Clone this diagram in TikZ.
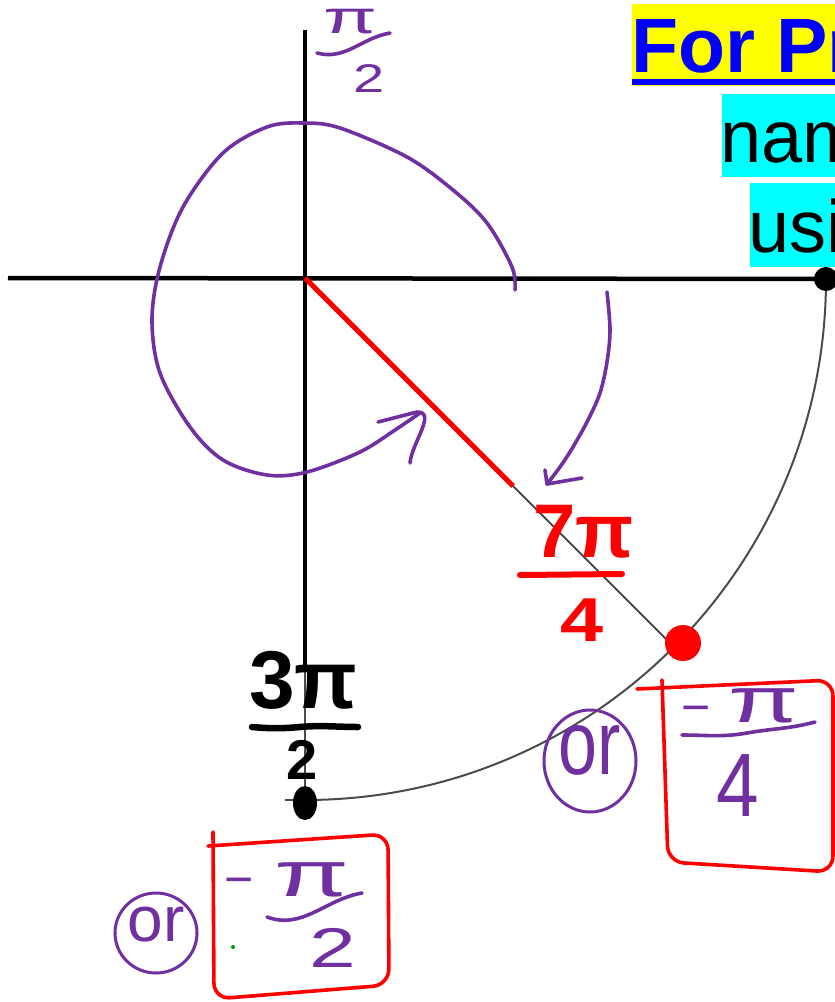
\documentclass[tikz,border=0pt]{standalone}
\usepackage{fontspec}
\setmainfont{Liberation Sans}
\definecolor{pen}{RGB}{112,48,160}
\definecolor{arcgrey}{RGB}{75,75,75}
\definecolor{hlcyan}{RGB}{0,255,255}
\definecolor{hlyellow}{RGB}{255,255,0}
\definecolor{titleblue}{RGB}{0,0,255}
\newcommand{\fs}[1]{\fontsize{#1}{#1}\selectfont}
\tikzset{
  axisline/.style={line width=4.5pt, black},
  thinline/.style={line width=2pt, arcgrey},
  penline/.style={pen, line width=3.6pt, line cap=round, line join=round},
  redbox/.style={red, line width=3.6pt, line cap=round, line join=round, rounded corners=16pt},
  redpen/.style={red, line width=6pt, line cap=round},
  blackpen/.style={black, line width=6.5pt, line cap=round},
  txt/.style={inner sep=0pt, outer sep=0pt},
}
\begin{document}
\begin{tikzpicture}[x=1pt,y=-1pt]
\useasboundingbox (0,0) rectangle (835,1002);
\clip (0,0) rectangle (835,1002);
\fill[white] (0,0) rectangle (835,1002);

% ---------- title highlights ----------
\fill[hlyellow] (632,4) rectangle (835,86);
\fill[titleblue] (632,79) rectangle (835,85);
\fill[hlcyan] (722,94) rectangle (835,177);
\fill[hlcyan] (750,183) rectangle (835,267);
\node[txt, anchor=base west, text=titleblue, font=\bfseries\fs{77}] (title) at (631,72) {For Pr};
\node[txt, anchor=base west, font=\fs{74}] (line2) at (720,162) {nam};
\node[txt, anchor=base west, font=\fs{74}] (line3) at (748,252) {usi};

% ---------- axes and circle ----------
\coordinate (O) at (305,278);
\coordinate (E) at (826,279);
\coordinate (S) at (305,800);
\coordinate (P) at (673,646);
\draw[thinline] (O) -- (S);
\draw[thinline] (285,800) -- (S);
\draw[thinline] (S) arc[start angle=90, end angle=0, radius=521];
\draw[thinline] (O) -- (P);
\draw[axisline] (8,278) -- (E);
\draw[axisline] (305,30) -- (305,668);
\draw[red, line width=5pt] (O) -- (513,486);
\fill[black] (E) circle[radius=12];
\fill[black] (305,803) ellipse[x radius=12, y radius=17];
\fill[red] (683,643) circle[radius=18];

% ---------- purple rotation arrows ----------
\coordinate (tipA) at (420,413);
\draw[penline] plot[smooth, tension=0.55] coordinates {(515,290) (512,267) (487,223) (453,190) (407,157) (340,128) (303,123) (267,127) (223,153) (183,207) (160,267) (152,320) (160,373) (190,427) (223,460) (267,475) (307,472) (360,452) (395,430) (tipA)};
\draw[penline] (378,422) -- (417,412) to[out=0,in=85] (410,463);

\coordinate (tipB) at (547,484);
\draw[penline] plot[smooth, tension=0.55] coordinates {(607,292) (610,330) (607,362) (600,393) (588,420) (573,447) (560,467) (tipB)};
\draw[penline] (545,470) -- (tipB) -- (582,478);

% ---------- pi/2 (top, purple) ----------
\node[txt, text=pen, font=\fs{46}, xscale=1.7] (topPi) at (350,22) {π};
\draw[penline] (317,53) to[out=-15,in=190] (390,33);
\node[txt, text=pen, font=\fs{40}, xscale=1.4] (topTwo) at (369,79) {2};

% ---------- 7pi/4 (red) ----------
\node[txt, anchor=base west, text=red, font=\bfseries\fs{76}] (sevenPi) at (533,557) {7π};
\draw[redpen] (520,575) -- (622,574);
\node[txt, text=red, font=\bfseries\fs{62}, xscale=1.25] (four) at (582,620) {4};

% ---------- 3pi/2 (black) ----------
\node[txt, anchor=base west, font=\bfseries\fs{82}] (threePi) at (249,708) {3π};
\draw[blackpen] (252,727) to[out=-5,in=185] (300,727) to[out=5,in=180] (358,727);
\node[txt, font=\bfseries\fs{56}] (two) at (302,760) {2};

% ---------- "or" (middle) and box -pi/4 ----------
\draw[pen, line width=3pt] (590,761) ellipse[x radius=46, y radius=51];
\node[txt, text=pen, font=\fs{70}, yscale=1.3] (orA) at (590,750) {or};
\draw[redbox] (637,689) -- (833,680) -- (833,872) -- (668,862) -- (662,680);
\node[txt, anchor=base, text=pen, font=\fs{50}] (minusA) at (696,724) {−};
\node[txt, text=pen, font=\fs{64}, xscale=1.6] (piA) at (764,706) {π};
\draw[penline] (682,735) to[out=0,in=190] (747,733) to[out=10,in=195] (815,722);
\node[txt, text=pen, font=\fs{90}, xscale=0.85] (fourA) at (738,786) {4};

% ---------- "or" (left) and box -pi/2 ----------
\draw[pen, line width=3pt] (156,933) ellipse[x radius=41, y radius=40];
\node[txt, text=pen, font=\fs{64}] (orB) at (156,925) {or};
\draw[redbox] (208,846) -- (388,834) -- (389,985) -- (214,999) -- (213,832);
\node[txt, anchor=base, text=pen, font=\fs{50}] (minusB) at (239,896) {−};
\node[txt, text=pen, font=\fs{64}, xscale=1.7] (piB) at (312,880) {π};
\draw[penline] (267,917) to[out=-20,in=190] (362,893);
\node[txt, text=pen, font=\fs{56}, xscale=1.5] (twoB) at (333,948) {2};
\fill[green!60!black] (233,947) circle[radius=2];
\end{tikzpicture}
\end{document}
